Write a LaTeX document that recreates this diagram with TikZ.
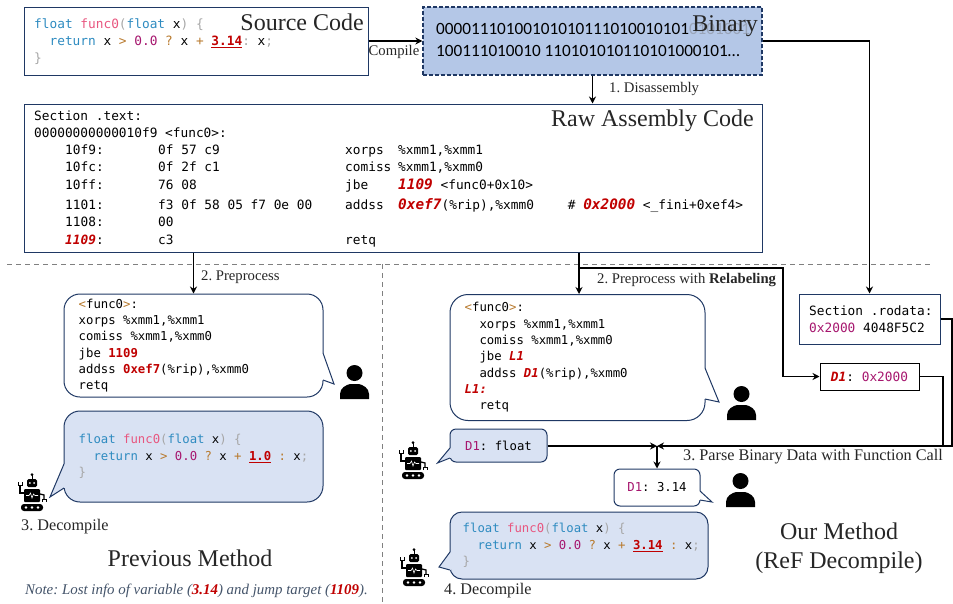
\documentclass[tikz,border=0pt]{standalone}
\usepackage{fontspec}
\setmainfont{Liberation Serif}
\newfontfamily\mono{DejaVu Sans Mono}
\newfontfamily\binfont{Carlito}
\usetikzlibrary{calc,arrows.meta}

\definecolor{navy}{HTML}{1F3864}
\definecolor{binfill}{HTML}{B4C7E7}
\definecolor{llmfill}{HTML}{D9E2F3}
\definecolor{kwblue}{HTML}{2E8BC0}
\definecolor{fnpink}{HTML}{E8567F}
\definecolor{opbrown}{HTML}{B87A2E}
\definecolor{nummag}{HTML}{A6166E}
\definecolor{hlred}{HTML}{C00000}
\definecolor{notegray}{HTML}{44546A}

\newcommand{\kw}[1]{\textcolor{kwblue}{#1}}
\newcommand{\fn}[1]{\textcolor{fnpink}{#1}}
\newcommand{\pu}[1]{\textcolor{black!35}{#1}}
\newcommand{\opr}[1]{\textcolor{opbrown}{#1}}
\newcommand{\num}[1]{\textcolor{nummag}{#1}}
\newcommand{\hl}[1]{\textcolor{hlred}{\textbf{#1}}}
\newcommand{\hli}[1]{\textcolor{hlred}{\textbf{\textit{#1}}}}
\newcommand{\hlbig}[1]{\textcolor{hlred}{\fontsize{14.4}{14.4}\selectfont\textbf{\textit{#1}}}}
\newcommand{\hlu}[1]{{\color{hlred}\underline{\textbf{#1}}}}
\newcommand{\ind}{\mbox{}\phantom{xx}}

\tikzset{
	codebig/.style={font=\mono\frenchspacing\fontsize{12.8}{17}\selectfont},
	codesmall/.style={font=\mono\frenchspacing\fontsize{12.3}{16.3}\selectfont},
	box/.style={draw=navy,line width=1pt,rectangle,inner sep=0pt},
	bubble/.style={draw=navy,line width=1pt,rectangle,fill=white,align=center,inner sep=0pt,codesmall},
	code text/.style={codesmall,anchor=west,align=left,inner sep=0pt},
	step label/.style={font=\frenchspacing\fontsize{14.7}{14.7}\selectfont,text=black!85,inner sep=0pt},
	wide label/.style={step label,font=\frenchspacing\fontsize{16.2}{16.2}\selectfont},
	title/.style={font=\fontsize{24}{29}\selectfont,text=black!85,inner sep=0pt,align=center},
	conn/.style={line width=1.5pt},
	split/.style={black!50,dash pattern=on 5pt off 4pt,line width=.8pt},
	personicon/.pic={
		\fill (14.5,8) circle (8);
		\fill (0,34) -- (0,29) .. controls (0,23) and (6,20) .. (10,19) -- (19,19) .. controls (23,20) and (29,23) .. (29,29) -- (29,34) -- cycle;
	},
	roboticon/.pic={
		\fill (15,1.5) circle (1.5);
		\draw [line width=1pt] (15,2) -- (15,6);
		\fill [rounded corners=1.5pt] (10,6) rectangle (20,14);
		\fill [white] (12.8,10) circle (1) (17.2,10) circle (1);
		\fill [rounded corners=1pt] (7,16) rectangle (23,29);
		\draw [white,line width=.6pt] (9,22.5) -- (12,22.5) -- (13.5,20) -- (15,25) -- (16.5,21) -- (18,22.5) -- (21,22.5);
		\draw [line width=1.3pt] (7,20) -- (3,20) -- (3,12);
		\draw [line width=1pt] (1,9) -- (1,12) -- (5,12) -- (5,9);
		\draw [line width=1.3pt] (23,21) -- (27,22) -- (27,26);
		\draw [line width=1pt] (25,29) -- (25,26) -- (29,26) -- (29,29);
		\fill [rounded corners=3pt] (4,31) rectangle (26,38);
		\fill [white] (9,34.5) circle (1.4) (15,34.5) circle (1.4) (21,34.5) circle (1.4);
	}
}

\begin{document}
\begin{tikzpicture}[x=1pt,y=-1pt,>={Stealth[length=7pt,width=7pt]}]

\useasboundingbox (0,0) rectangle (953,603);

%%%%%%%%%%%%%%%%%%%%%%%%%%%%%%%%%%%%%%%%%%%%%%%%%%%%%%%%%%%%%%%%

\draw [split] (7,264) -- (930,264);
\draw [split] (382,264) -- (382,603);

\node [box,minimum width=344pt,minimum height=68pt] at (196,41) (src) {};
\node [box,line width=1.3pt,dash pattern=on 4pt off 2pt,fill=binfill,minimum width=339pt,minimum height=68pt] at (592.5,41) (bin) {};
\node [box,minimum width=738pt,minimum height=148pt] at (393,178) (raw) {};
\node [box,minimum width=141pt,minimum height=50pt] at (869.5,319) (rodata) {};
\node [box,draw=black,minimum width=99pt,minimum height=27pt] at (869.5,376.5) (dlabel) {};

\node [codebig,anchor=west,align=left,inner sep=0pt] at (34,41.5) (srctext) {\kw{float} \fn{func0}\pu{(}\kw{float} x\pu{)} \pu{\{}\\
	\ind\kw{return} x \opr{>} \num{0.0} \opr{?} x \opr{+} \hlu{3.14}\pu{:} x\pu{;}\\
	\pu{\}}};
\node [title,anchor=east] at (364,22) (srctitle) {Source Code};

\node [anchor=west,inner sep=0pt,font=\binfont\fontsize{17.2}{17.2}\selectfont] at (436,29) (bintop) {00001110100101010111010010101\textcolor{navy!45}{0101001}};
\node [anchor=west,inner sep=0pt,font=\binfont\fontsize{17.2}{17.2}\selectfont] at (436,51) (binbot) {100111010010 110101010110101000101\ldots};
\node [title,anchor=east] at (758,26) (bintitle) {Binary};

%%%%%%%%%%%%%%%%%%%%%%%%%%%%%%%%%%%%%%%%%%%%%%%%%%%%%%%%%%%%%%%%

\node [codebig,anchor=base west,inner sep=0pt] at (34,120) (rawhead) {Section .text:};
\node [codebig,anchor=base west,inner sep=0pt] at (34,137) (rawfunc) {00000000000010f9 <func0>:};
\node [title,anchor=east] at (754,120.5) (rawtitle) {Raw Assembly Code};

\foreach \i/\rowy/\addr/\bytes/\opc/\args in {
	1/154/10f9:/0f 57 c9/xorps/{\%xmm1,\%xmm1},
	2/171/10fc:/0f 2f c1/comiss/{\%xmm1,\%xmm0},
	3/189.5/10ff:/76 08/jbe/{\hlbig{1109} <func0+0x10>},
	4/209.5/1101:/f3 0f 58 05 f7 0e 00/addss/{\hlbig{0xef7}(\%rip),\%xmm0\phantom{xxxx}\hspace*{3pt}\# \hlbig{0x2000} <\_fini+0xef4>},
	5/226.5/1108:/00/{}/{},
	6/244.5/{\hli{1109}:}/c3/retq/{}} {
	\node [codebig,anchor=base west,inner sep=0pt] at (65,\rowy) (addr\i) {\addr};
	\node [codebig,anchor=base west,inner sep=0pt] at (158,\rowy) (bytes\i) {\bytes};
	\node [codebig,anchor=base west,inner sep=0pt] at (345,\rowy) (opc\i) {\opc};
	\node [codebig,anchor=base west,inner sep=0pt] at (398,\rowy) (args\i) {\args};
}

%%%%%%%%%%%%%%%%%%%%%%%%%%%%%%%%%%%%%%%%%%%%%%%%%%%%%%%%%%%%%%%%

\node [bubble,rounded corners=16pt,minimum width=259pt,minimum height=103pt] at (193.5,345.5) (pre) {};
\node [bubble,fill=llmfill,rounded corners=16pt,minimum width=259pt,minimum height=91pt] at (193.5,456.5) (dec) {};
\node [bubble,rounded corners=18pt,minimum width=255pt,minimum height=126pt] at (577.5,357.5) (rel) {};
\node [bubble,fill=llmfill,rounded corners=6pt,minimum width=97pt,minimum height=33pt] at (498.5,445.5) (flt) {\num{D1}: float};
\node [bubble,rounded corners=6pt,minimum width=86pt,minimum height=37pt] at (657,487.5) (val) {\num{D1}: 3.14};
\node [bubble,fill=llmfill,rounded corners=12pt,minimum width=258pt,minimum height=67pt] at (579,545.5) (redec) {};

% tails of the bubbles
\foreach \ax/\ay/\tx/\ty/\bx/\by/\tailfill in {
	323/353/334/384/323/380/white,
	64/464/50/497/64/488/llmfill,
	705/368/719/402/705/399/white,
	450/448/437.5/463/450/458/llmfill,
	700/491/712/502/700/500/white,
	450/552/439/567/450/570/llmfill} {
	\fill [\tailfill] (\ax,\ay) -- (\tx,\ty) -- (\bx,\by) -- cycle;
	\draw [\tailfill,line width=1.6pt] (\ax,\ay) -- (\bx,\by);
	\draw [navy,line width=1pt] (\ax,\ay) -- (\tx,\ty) -- (\bx,\by);
}

\node [code text] at ($(pre.west)+(15,0)$) (pretext) {\opr{<}func0\opr{>}:\\
	xorps \%xmm1,\%xmm1\\
	comiss \%xmm1,\%xmm0\\
	jbe \hl{1109}\\
	addss \hl{0xef7}(\%rip),\%xmm0\\
	retq};
\node [code text] at ($(dec.west)+(15,0)$) (dectext) {\kw{float} \fn{func0}\pu{(}\kw{float} x\pu{)} \pu{\{}\\
	\ind\kw{return} x \opr{>} \num{0.0} \opr{?} x \opr{+} \hlu{1.0} \opr{:} x\pu{;}\\
	\pu{\}}};
\node [code text] at ($(rel.west)+(15,0)$) (reltext) {\opr{<}func0\opr{>}:\\
	\ind xorps \%xmm1,\%xmm1\\
	\ind comiss \%xmm1,\%xmm0\\
	\ind jbe \hli{L1}\\
	\ind addss \hli{D1}(\%rip),\%xmm0\\
	\hli{L1:}\\
	\ind retq};
\node [code text] at ($(redec.west)+(13,0)$) (redectext) {\kw{float} \fn{func0}\pu{(}\kw{float} x\pu{)} \pu{\{}\\
	\ind\kw{return} x \opr{>} \num{0.0} \opr{?} x \opr{+} \hlu{3.14} \opr{:} x\pu{;}\\
	\pu{\}}};

\node [codebig,anchor=west,align=left,inner sep=0pt] at (809,319) (rotext) {Section .rodata:\\ \num{0x2000} 4048F5C2};
\node [codebig,inner sep=0pt] at (869.5,377) (dtext) {\hli{D1}: \num{0x2000}};

\foreach \x/\y/\name in {340/365/user1,727/386/user2,726/473/user3} {
	\pic (\name) at (\x,\y) {personicon};
}
\foreach \x/\y/\name in {17/473/bot1,398/441/bot2,399/548/bot3} {
	\pic (\name) at (\x,\y) {roboticon};
}

%%%%%%%%%%%%%%%%%%%%%%%%%%%%%%%%%%%%%%%%%%%%%%%%%%%%%%%%%%%%%%%%

\coordinate (relin) at (579,294);
\coordinate (turn) at (579,268);
\coordinate (bend) at (783,376.5);
\coordinate (join) at (657,446);
\coordinate (dturn) at (943,446);
\coordinate (rturn) at (952,446);

\draw [->,conn] (src.east) to (bin.west);
\draw [->,conn] (bin.south) to (bin.south |- raw.north);
\draw [->,conn] (bin.east) -| (rodata.north);
\draw [->,conn] (pre.north |- raw.south) to (pre.north);
\draw [->,conn] (relin |- raw.south) to (relin);
\draw [->,conn] (turn) -| (bend) -- (dlabel.west);
\draw [->,conn] (flt.east |- join) to (join);
\draw [->,conn] (dlabel.east) -| (dturn) -- (join);
\draw [conn] (rodata.east) -| (rturn) -- (dturn);
\draw [->,conn] (join) to (val.north);

\node [step label] at (394,52) (compile) {Compile};
\node [step label,anchor=west] at (609,89) (disasm) {1. Disassembly};
\node [step label,anchor=west] at (201,277) (prep) {2. Preprocess};
\node [step label,anchor=west] at (597,280) (preprel) {2. Preprocess with \textbf{Relabeling}};
\node [wide label,anchor=west] at (683,457) (parse) {3. Parse Binary Data with Function Call};
\node [wide label,anchor=west] at (21,527) (decl) {3. Decompile};
\node [wide label,anchor=west] at (444,591) (decr) {4. Decompile};

\node [title] at (190,558) (prevtitle) {Previous Method};
\node [title] at (839,548) (ourtitle) {Our Method\\(ReF Decompile)};
\node [step label,font=\frenchspacing\fontsize{14.9}{14.9}\selectfont,anchor=west,text=notegray] at (25,591) (note) {\textit{Note: Lost info of variable (\textcolor{hlred}{\textbf{3.14}}) and jump target (\textcolor{hlred}{\textbf{1109}}).}};

\end{tikzpicture}
\end{document}
